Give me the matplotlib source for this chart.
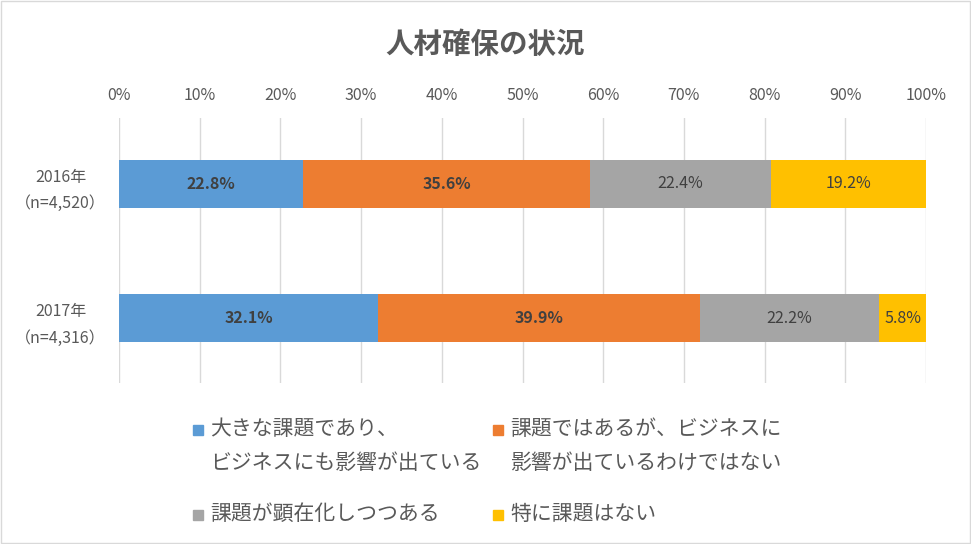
import matplotlib.pyplot as plt
from matplotlib.patches import Rectangle

plt.rcParams['font.family'] = ['Noto Sans CJK JP', 'DejaVu Sans']

years = ["2016年\n（n=4,520）", "2017年\n（n=4,316）"]
labels = ["大きな課題であり、\nビジネスにも影響が出ている",
          "課題ではあるが、ビジネスに\n影響が出ているわけではない",
          "課題が顕在化しつつある",
          "特に課題はない"]
v_big = [22.8, 32.1]
v_mid = [35.6, 39.9]
v_emerge = [22.4, 22.2]
v_none = [19.2, 5.8]
colors = ["#5B9BD5", "#ED7D31", "#A5A5A5", "#FFC000"]
ticks = [0, 10, 20, 30, 40, 50, 60, 70, 80, 90, 100]

fig = plt.figure(figsize=(9.71, 5.44), dpi=100)
fig.patches.append(Rectangle((0.001, 0.001), 0.998, 0.997, transform=fig.transFigure,
                             fill=False, edgecolor="#D9D9D9", linewidth=1))
ax = fig.add_axes([119/971, 1-383/544, (926-119)/971, 265/544])

series = [v_big, v_mid, v_emerge, v_none]
left = [0, 0]
for i, vals in enumerate(series):
    ax.barh([0, 1], vals, left=left, height=0.357, color=colors[i], zorder=3)
    for j, v in enumerate(vals):
        bold = i < 2
        ax.text(left[j] + v/2, j, f"{v}%", ha="center", va="center",
                fontsize=11.5, color="#404040",
                fontweight="bold" if bold else "normal", zorder=4)
    left = [left[k] + vals[k] for k in range(2)]

ax.set_xlim(0, 100)
ax.set_ylim(1.48, -0.49)
ax.set_xticks(ticks)
ax.set_xticklabels([f"{t}%" for t in ticks])
ax.xaxis.tick_top()
ax.tick_params(axis="x", length=0, pad=10, labelsize=11.5, labelcolor="#595959")
ax.set_yticks([0, 1])
ax.set_yticklabels(years)
ax.tick_params(axis="y", length=0, pad=42, labelsize=11.5, labelcolor="#595959")
for lbl in ax.get_yticklabels():
    lbl.set_horizontalalignment("center")
    lbl.set_linespacing(1.7)
ax.grid(axis="x", color="#D9D9D9", linewidth=1, zorder=0)
for s in ax.spines.values():
    s.set_visible(False)

fig.text(0.5, 1-45/544, "人材確保の状況", ha="center", va="center",
         fontsize=20.5, fontweight="bold", color="#595959")

# legend
pos = [(193, 430), (493, 430), (193, 515), (493, 515)]
for (x, y), c, t in zip(pos, colors, labels):
    fig.patches.append(Rectangle((x/971, 1-(y+5)/544), 10/971, 10/544,
                                 transform=fig.transFigure, color=c))
    fig.text((x+17)/971, 1-(y-12)/544, t, ha="left", va="top", fontsize=15,
             color="#595959", linespacing=1.7)

plt.savefig("out.png")
